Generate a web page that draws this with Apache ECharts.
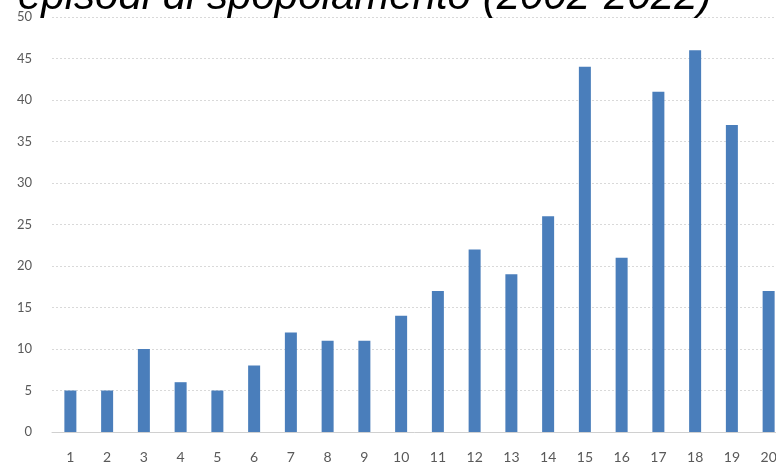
<!DOCTYPE html>
<html>
<head>
<meta charset="utf-8">
<script src="https://cdn.jsdelivr.net/npm/echarts@6/dist/echarts.min.js"></script>
<style>
    html, body { margin: 0; padding: 0; background: #fff; }
    #chart { width: 776px; height: 464px; }
</style>
</head>
<body>
<div id="chart"></div>
<script>
// dati
var categories = ["1","2","3","4","5","6","7","8","9","10","11","12","13","14","15","16","17","18","19","20"];
var values = [5, 5, 10, 6, 5, 8, 12, 11, 11, 14, 17, 22, 19, 26, 44, 21, 41, 46, 37, 17];
var titleText = "episodi di spopolamento (2002-2022)";

(function () {
    var myChart = echarts.init(document.getElementById("chart"));
    var option = {
        animation: false,
        title: {
            text: titleText,
            left: 18,
            top: -24,
            padding: 0,
            textStyle: {
                fontFamily: "Liberation Sans",
                fontStyle: "italic",
                fontWeight: "normal",
                fontSize: 42,
                color: "#000"
            }
        },
        grid: {
            left: 52,
            width: 735,   // il grafico originale esce a destra
            top: 17,
            bottom: 32,
            containLabel: false,
            outerBoundsMode: "none"
        },
        xAxis: {
            type: "category",
            data: categories,
            axisLine: { lineStyle: { color: "#d0d0d0" } },
            axisTick: { show: false },
            axisLabel: {
                margin: 18,
                color: "#595959",
                fontFamily: "Lato",
                fontSize: 14,
                interval: 0
            }
        },
        yAxis: {
            type: "value",
            min: 0,
            max: 50,
            interval: 5,
            axisLine: { show: false },
            axisTick: { show: false },
            axisLabel: {
                margin: 20,
                color: "#595959",
                fontFamily: "Lato",
                fontSize: 13
            },
            splitLine: {
                lineStyle: { color: "#d9d9d9", type: [2, 2] }
            }
        },
        series: [{
            type: "bar",
            data: values,
            barWidth: 12,
            itemStyle: { color: "#4a7ebb" }
        }]
    };
    myChart.setOption(option);
})();
</script>
</body>
</html>
